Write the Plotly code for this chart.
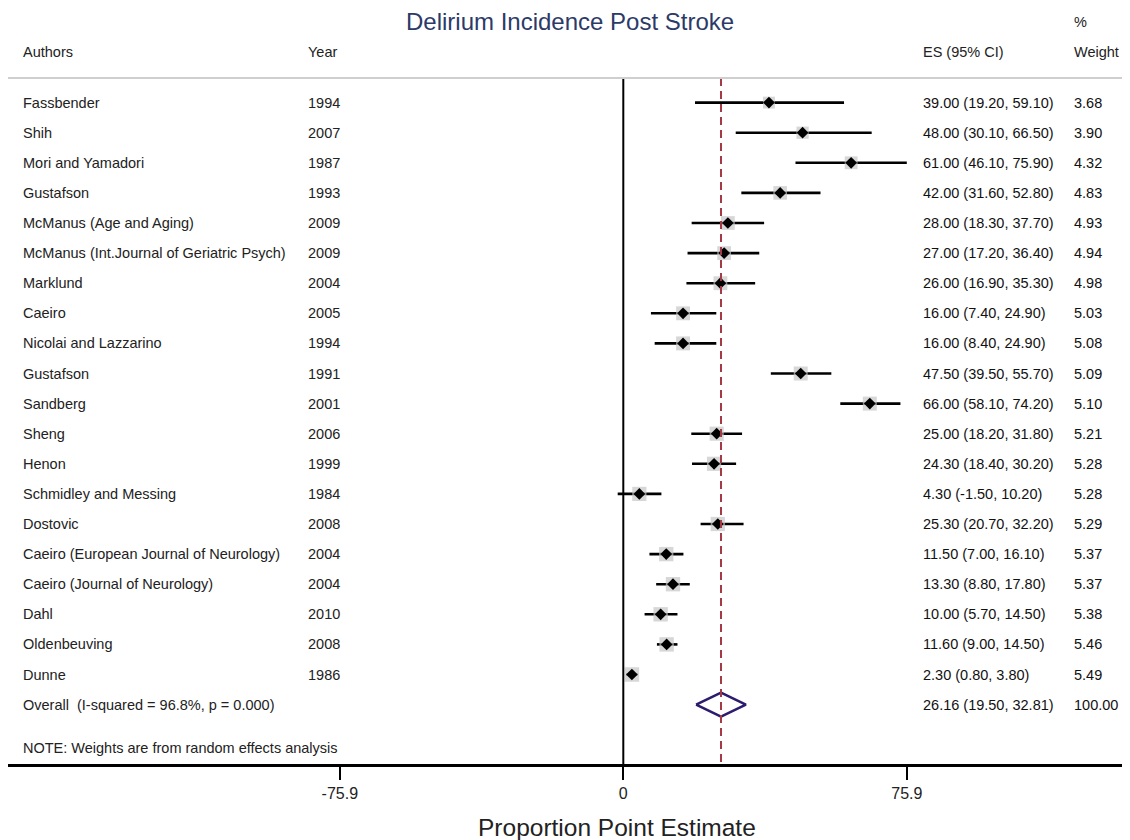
import plotly.graph_objects as go

# ---------------- data ----------------
authors = ["Fassbender", "Shih", "Mori and Yamadori", "Gustafson",
           "McManus (Age and Aging)", "McManus (Int.Journal of Geriatric Psych)",
           "Marklund", "Caeiro", "Nicolai and Lazzarino", "Gustafson", "Sandberg",
           "Sheng", "Henon", "Schmidley and Messing", "Dostovic",
           "Caeiro (European Journal of Neurology)", "Caeiro (Journal of Neurology)",
           "Dahl", "Oldenbeuving", "Dunne"]
years = [1994, 2007, 1987, 1993, 2009, 2009, 2004, 2005, 1994, 1991, 2001,
         2006, 1999, 1984, 2008, 2004, 2004, 2010, 2008, 1986]
es = [39.00, 48.00, 61.00, 42.00, 28.00, 27.00, 26.00, 16.00, 16.00, 47.50, 66.00,
      25.00, 24.30, 4.30, 25.30, 11.50, 13.30, 10.00, 11.60, 2.30]
ci_low = [19.20, 30.10, 46.10, 31.60, 18.30, 17.20, 16.90, 7.40, 8.40, 39.50, 58.10,
          18.20, 18.40, -1.50, 20.70, 7.00, 8.80, 5.70, 9.00, 0.80]
ci_high = [59.10, 66.50, 75.90, 52.80, 37.70, 36.40, 35.30, 24.90, 24.90, 55.70, 74.20,
           31.80, 30.20, 10.20, 32.20, 16.10, 17.80, 14.50, 14.50, 3.80]
weights = [3.68, 3.90, 4.32, 4.83, 4.93, 4.94, 4.98, 5.03, 5.08, 5.09, 5.10,
           5.21, 5.28, 5.28, 5.29, 5.37, 5.37, 5.38, 5.46, 5.49]
overall_label = "Overall  (I-squared = 96.8%, p = 0.000)"
overall_es, overall_low, overall_high, overall_weight = 26.16, 19.50, 32.81, 100.00
tick_vals = [-75.9, 0, 75.9]
tick_text = ["-75.9", "0", "75.9"]

# ---------------- geometry helpers ----------------
# The page places the figure 8px in from the top-left corner, so the figure
# covers window pixels 8..1130 x 8..840.
PAGE_OFF = 8
WIN_W, WIN_H = 1130, 840
W, H = WIN_W - PAGE_OFF, WIN_H - PAGE_OFF
AXIS_PX = 764                      # window y of the x-axis line
ML, MR, MT = 0, 0, 0
MB = WIN_H - AXIS_PX
PX_PER_UNIT = 3.735
ZERO_PX = 623.3
ROW0_PX, ROW_STEP = 102.6, 30.1


def px_to_x(px):
    return (px - ZERO_PX) / PX_PER_UNIT


def py_to_row(py):
    return (py - ROW0_PX) / ROW_STEP


def py_to_paper(py):
    return (AXIS_PX - py) / (AXIS_PX - PAGE_OFF)


x_range = [px_to_x(PAGE_OFF), px_to_x(WIN_W)]
y_range = [py_to_row(AXIS_PX), py_to_row(PAGE_OFF)]

n = len(authors)
rows = list(range(n))
overall_row = n

FONT = "Liberation Sans, Arial, sans-serif"
TXT = "#222222"

fig = go.Figure()

# CI lines
cx, cy = [], []
for r, lo, hi in zip(rows, ci_low, ci_high):
    cx += [lo, hi, None]
    cy += [r, r, None]
fig.add_trace(go.Scatter(x=cx, y=cy, mode="lines",
                         line=dict(color="black", width=2.6), hoverinfo="skip"))

# weight squares
fig.add_trace(go.Scatter(x=es, y=rows, mode="markers",
                         marker=dict(symbol="square", color="#c6c6c6",
                                     size=[14.5 * (w / max(weights)) ** 0.5 for w in weights],
                                     line=dict(width=0))))
# point estimates
fig.add_trace(go.Scatter(x=es, y=rows, mode="markers",
                         marker=dict(symbol="diamond", color="black", size=9,
                                     line=dict(width=0))))

# overall diamond
dh = 12 / ROW_STEP
fig.add_trace(go.Scatter(
    x=[overall_low, overall_es, overall_high, overall_es, overall_low],
    y=[overall_row, overall_row - dh, overall_row, overall_row + dh, overall_row],
    mode="lines", line=dict(color="#2d1b6e", width=2.6), hoverinfo="skip"))

sep_row = py_to_row(78)

# zero line and overall dashed line
fig.add_shape(type="line", xref="x", yref="y", x0=0, x1=0,
              y0=sep_row, y1=y_range[0], line=dict(color="black", width=2))
fig.add_shape(type="line", xref="x", yref="y", x0=overall_es, x1=overall_es,
              y0=sep_row, y1=y_range[0],
              line=dict(color="#a33a46", width=2, dash="8px,5px"))
# header separator
fig.add_shape(type="line", xref="paper", yref="y", x0=0, x1=1,
              y0=sep_row, y1=sep_row, line=dict(color="#cfcfcf", width=2))

# ---------------- text ----------------
COL_AUTH, COL_YEAR, COL_ES, COL_W = 20.5, 306, 921, 1072
FS = 14.5


def txt(px, row, text, size=FS, color=TXT, anchor="left", yref="y"):
    fig.add_annotation(x=px_to_x(px), y=row, xref="x", yref=yref, text=text,
                       showarrow=False, xanchor=anchor, yanchor="middle",
                       font=dict(family=FONT, size=size, color=color))


head_row = py_to_row(52)
pct_row = py_to_row(22)
txt(COL_AUTH, head_row, "Authors")
txt(COL_YEAR, head_row, "Year")
txt(COL_ES, head_row, "ES (95% CI)")
txt(COL_W, head_row, "Weight")
txt(COL_W, pct_row, "%")

for r, a, yv, e, lo, hi, w in zip(rows, authors, years, es, ci_low, ci_high, weights):
    txt(COL_AUTH, r, a)
    txt(COL_YEAR, r, str(yv))
    txt(COL_ES, r, f"{e:.2f} ({lo:.2f}, {hi:.2f})", color="#111111")
    txt(COL_W, r, f"{w:.2f}", color="#111111")

txt(COL_AUTH, overall_row, overall_label)
txt(COL_ES, overall_row, f"{overall_es:.2f} ({overall_low:.2f}, {overall_high:.2f})", color="#111111")
txt(COL_W, overall_row, f"{overall_weight:.2f}", color="#111111")
txt(COL_AUTH, py_to_row(748), "NOTE: Weights are from random effects analysis")

# chart title and x-axis title
txt(570, py_to_row(21), "Delirium Incidence Post Stroke", size=24,
    color="#2c3a68", anchor="center")
txt(617, py_to_paper(827), "Proportion Point Estimate", size=24.5,
    color=TXT, anchor="center", yref="paper")

fig.update_layout(
    width=W, height=H,
    margin=dict(l=ML, r=MR, t=MT, b=MB, pad=0),
    paper_bgcolor="white", plot_bgcolor="white",
    showlegend=False,
    xaxis=dict(range=x_range, tickvals=tick_vals, ticktext=tick_text,
               showgrid=False, zeroline=False, showline=True, linecolor="black",
               linewidth=2.5, ticks="outside", ticklen=13, tickwidth=2,
               tickcolor="black",
               tickfont=dict(family=FONT, size=16, color=TXT)),
    yaxis=dict(range=y_range, visible=False, showgrid=False, zeroline=False),
)

fig.write_html("out.html")
